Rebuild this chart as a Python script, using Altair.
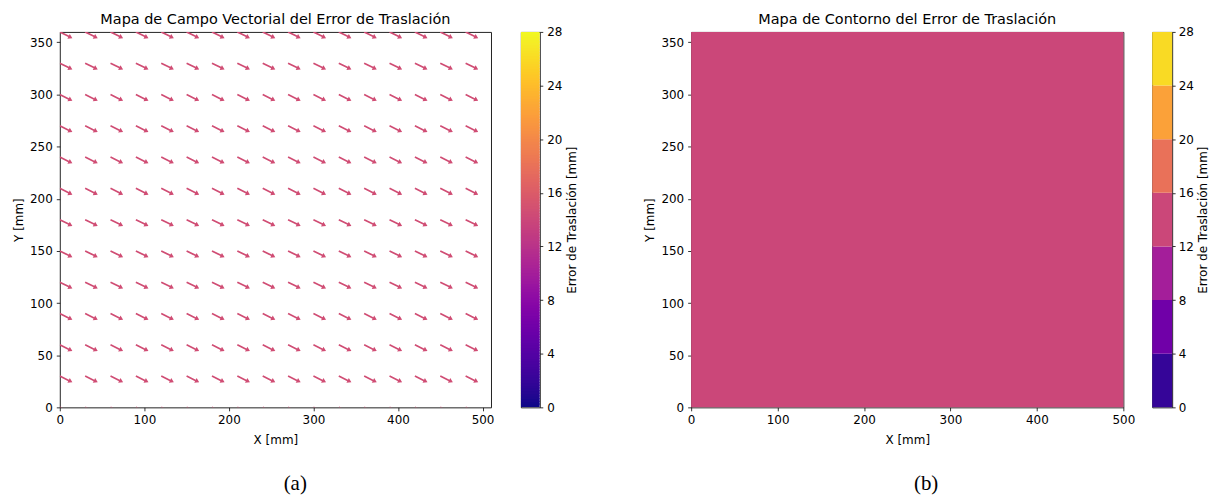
import altair as alt
import numpy as np
import pandas as pd

# ---- data ----
X_GRID = [0, 30, 60, 90, 120, 150, 180, 210, 240, 270, 300, 330, 360, 390, 420, 450, 480]
Y_GRID = [0, 30, 60, 90, 120, 150, 180, 210, 240, 270, 300, 330, 360]
U_COMP = 13.0      # x component of translation error [mm]
V_COMP = -6.5      # y component of translation error [mm]

X_TICKS = [0, 100, 200, 300, 400, 500]
Y_TICKS = [0, 50, 100, 150, 200, 250, 300, 350]
CB_TICKS = [0, 4, 8, 12, 16, 20, 24, 28]
LEVELS = [0, 4, 8, 12, 16, 20, 24, 28]

CONTOUR_X = [0, 500]
CONTOUR_Y = [0, 360]
CONTOUR_ERR = 14.5

TITLE_A = "Mapa de Campo Vectorial del Error de Traslación"
TITLE_B = "Mapa de Contorno del Error de Traslación"
CB_TITLE = "Error de Traslación [mm]"

# ---- tables ----
rows = []
for yv in Y_GRID:
    for xv in X_GRID:
        rows.append({"x": xv, "y": yv, "u": U_COMP, "v": V_COMP})
quiver = pd.DataFrame(rows)
quiver["err"] = np.hypot(quiver["u"], quiver["v"])
quiver["angle"] = np.degrees(np.arctan2(-quiver["v"], quiver["u"]))

band = [(lo, hi) for lo, hi in zip(LEVELS[:-1], LEVELS[1:])]
contour_band = next((lo + hi) / 2 for lo, hi in band if lo <= CONTOUR_ERR < hi)
contour = pd.DataFrame([{"x": CONTOUR_X[0], "x2": CONTOUR_X[1], "y": CONTOUR_Y[0],
                         "y2": CONTOUR_Y[1], "c": contour_band}])

ramp_vals = np.arange(0, 28.0, 0.2)
ramp = pd.DataFrame({"lo": ramp_vals, "hi": ramp_vals + 0.3, "c": ramp_vals + 0.1})
bands = pd.DataFrame({"lo": LEVELS[:-1], "hi": LEVELS[1:],
                      "c": [(a + b) / 2 for a, b in zip(LEVELS[:-1], LEVELS[1:])]})

cscale = alt.Scale(scheme="plasma", domain=[0, 28])
ARROW = "M0,-0.06 L0.7,-0.06 L0.7,-0.19 L1,0 L0.7,0.19 L0.7,0.06 L0,0.06 Z"

H = 377
title_kw = dict(font="DejaVu Sans", fontSize=14.5, fontWeight="normal", color="#000", offset=4)

cb_axis_a = dict(values=CB_TICKS, orient="right", title=CB_TITLE, titleAngle=270,
                 titleBaseline="top", titlePadding=5, tickSize=3)
cb_axis_b = dict(values=CB_TICKS, orient="right", title=CB_TITLE, titleAngle=270,
                 titleBaseline="top", titlePadding=4, tickSize=3, labelPadding=3)

plot_a = alt.Chart(quiver).mark_point(
    shape=ARROW, filled=True, size=800, opacity=1, clip=True, strokeWidth=0
).encode(
    x=alt.X("x:Q", scale=alt.Scale(domain=[0, 510], nice=False, zero=False),
            axis=alt.Axis(values=X_TICKS, title="X [mm]")),
    y=alt.Y("y:Q", scale=alt.Scale(domain=[0, 360], nice=False, zero=False),
            axis=alt.Axis(values=Y_TICKS, title="Y [mm]")),
    color=alt.Color("err:Q", scale=cscale, legend=None),
    angle=alt.Angle("angle:Q", scale=None),
).properties(width=433, height=H, title=alt.TitleParams(TITLE_A, **title_kw))

cb_a = alt.Chart(ramp).mark_rect(clip=True, strokeWidth=0).encode(
    y=alt.Y("lo:Q", scale=alt.Scale(domain=[0, 28], nice=False), axis=alt.Axis(**cb_axis_a)),
    y2="hi:Q",
    x=alt.value(0), x2=alt.value(19),
    color=alt.Color("c:Q", scale=cscale, legend=None),
).properties(width=19, height=H)

plot_b = alt.Chart(contour).mark_rect(strokeWidth=0).encode(
    x=alt.X("x:Q", scale=alt.Scale(domain=[0, 500], nice=False, zero=False),
            axis=alt.Axis(values=X_TICKS, title="X [mm]")),
    x2="x2:Q",
    y=alt.Y("y:Q", scale=alt.Scale(domain=[0, 360], nice=False, zero=False),
            axis=alt.Axis(values=Y_TICKS, title="Y [mm]")),
    y2="y2:Q",
    color=alt.Color("c:Q", scale=cscale, legend=None),
).properties(width=434, height=H, title=alt.TitleParams(TITLE_B, **title_kw))

cb_b = alt.Chart(bands).mark_rect(strokeWidth=0).encode(
    y=alt.Y("lo:Q", scale=alt.Scale(domain=[0, 28], nice=False), axis=alt.Axis(**cb_axis_b)),
    y2="hi:Q",
    x=alt.value(0), x2=alt.value(20),
    color=alt.Color("c:Q", scale=cscale, legend=None),
).properties(width=20, height=H)

sub_kw = dict(font="Liberation Serif", fontSize=21, fontWeight="normal", color="#000",
              orient="bottom", anchor="middle", offset=27)

group_a = alt.hconcat(plot_a, cb_a, spacing=25).properties(
    title=alt.TitleParams("(a)", **sub_kw))
group_b = alt.hconcat(plot_b, cb_b, spacing=16).properties(
    title=alt.TitleParams("(b)", **sub_kw))

chart = alt.hconcat(group_a, group_b, spacing=65).properties(
    padding={"left": 4, "top": 3, "right": 0, "bottom": 0}
).configure_view(
    stroke="#222", strokeWidth=1
).configure_axis(
    labelFont="DejaVu Sans", labelFontSize=12, labelColor="#000",
    titleFont="DejaVu Sans", titleFontSize=12, titleFontWeight="normal", titleColor="#000",
    tickColor="#000", tickSize=3.5, tickWidth=0.8, domain=False, grid=False,
    labelPadding=4, titlePadding=4, labelFlush=False, labelOverlap=False, labelBound=False
).configure_axisX(titlePadding=9).configure_concat(spacing=25)

chart.save("out.html", embed_options={"renderer": "svg", "actions": False})
